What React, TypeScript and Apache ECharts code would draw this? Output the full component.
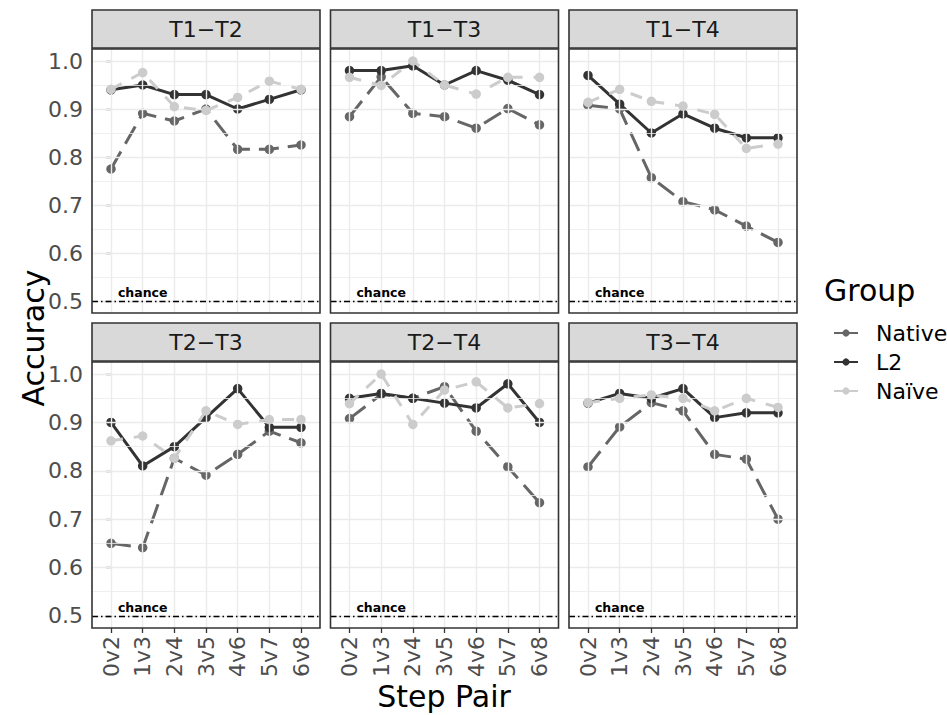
import React, { useEffect, useRef } from "react";
import * as echarts from "echarts";

// ---------- data ----------
const STEPS = ["0v2", "1v3", "2v4", "3v5", "4v6", "5v7", "6v8"];
const PANELS = ["T1−T2", "T1−T3", "T1−T4", "T2−T3", "T2−T4", "T3−T4"];
const GROUPS = ["Native", "L2", "Naïve"];
const Y_TICKS = [0.5, 0.6, 0.7, 0.8, 0.9, 1.0];
const Y_MINOR = [0.55, 0.65, 0.75, 0.85, 0.95];
const CHANCE = 0.5;
const CHANCE_LABEL = "chance";
const CHANCE_LABEL_STEP = 1; // at "1v3"

// one row per panel (PANELS order), one value per step pair
const NATIVE = [
  [0.775, 0.891, 0.875, 0.9, 0.816, 0.816, 0.825],
  [0.884, 0.967, 0.891, 0.884, 0.86, 0.901, 0.867],
  [0.908, 0.9, 0.757, 0.707, 0.69, 0.656, 0.622],
  [0.65, 0.641, 0.826, 0.791, 0.834, 0.882, 0.858],
  [0.908, 0.958, 0.95, 0.974, 0.882, 0.808, 0.734],
  [0.808, 0.891, 0.941, 0.924, 0.834, 0.824, 0.7],
];
const L2 = [
  [0.94, 0.95, 0.93, 0.93, 0.9, 0.92, 0.94],
  [0.98, 0.98, 0.99, 0.95, 0.98, 0.96, 0.93],
  [0.97, 0.91, 0.85, 0.89, 0.86, 0.84, 0.84],
  [0.9, 0.81, 0.85, 0.91, 0.97, 0.89, 0.89],
  [0.95, 0.96, 0.95, 0.94, 0.93, 0.98, 0.9],
  [0.94, 0.96, 0.95, 0.97, 0.91, 0.92, 0.92],
];
const NAIVE = [
  [0.941, 0.976, 0.905, 0.897, 0.924, 0.958, 0.941],
  [0.966, 0.949, 1.0, 0.95, 0.931, 0.966, 0.966],
  [0.914, 0.941, 0.916, 0.906, 0.889, 0.818, 0.827],
  [0.862, 0.872, 0.826, 0.924, 0.896, 0.906, 0.906],
  [0.939, 1.0, 0.896, 0.967, 0.984, 0.93, 0.939],
  [0.941, 0.95, 0.957, 0.95, 0.924, 0.95, 0.931],
];
const SERIES_VALUES = [NATIVE, L2, NAIVE];

// ---------- styles / layout ----------
const FONT = "'DejaVu Sans', 'Liberation Sans', Arial, sans-serif";
const COLORS = ["#666666", "#333333", "#CCCCCC"];
const DASHES: any[] = [[20, 9], "solid", [12, 11]];
const COL_LEFT = [92, 330.5, 569];
const PANEL_W = 228;
const ROW_TOP = [49, 362];
const ROW_H = [264, 266];
const STRIP_H = 38;

export default function App() {
  const ref = useRef<HTMLDivElement>(null);

  useEffect(() => {
    if (!ref.current) return;
    const chart = echarts.init(ref.current, null, { renderer: "svg" });

    const grids: any[] = [];
    const xAxes: any[] = [];
    const yAxes: any[] = [];
    const series: any[] = [];
    const graphics: any[] = [];
    const stepIdx = STEPS.map((_, k) => k);

    PANELS.forEach((name, i) => {
      const row = Math.floor(i / 3);
      const col = i % 3;
      const left = COL_LEFT[col];
      const top = ROW_TOP[row];
      const h = ROW_H[row];
      const bottomRow = row === 1;
      const leftCol = col === 0;

      grids.push({ left, top, width: PANEL_W, height: h, show: false, containLabel: false });

      xAxes.push({
        type: "value",
        gridIndex: i,
        min: -0.6,
        max: 6.6,
        axisLine: { show: false },
        splitLine: { show: false },
        axisTick: {
          show: bottomRow,
          customValues: stepIdx,
          length: 5,
          lineStyle: { color: "#333333", width: 1.3 },
        },
        axisLabel: {
          show: bottomRow,
          customValues: stepIdx,
          formatter: (v: number) => STEPS[Math.round(v)],
          rotate: 90,
          fontSize: 22,
          fontFamily: FONT,
          color: "#4D4D4D",
          margin: 8,
        },
      });

      yAxes.push({
        type: "value",
        gridIndex: i,
        min: 0.475,
        max: 1.025,
        axisLine: { show: false },
        splitLine: { show: false },
        axisTick: {
          show: leftCol,
          customValues: Y_TICKS,
          length: 5,
          lineStyle: { color: "#333333", width: 1.3 },
        },
        axisLabel: {
          show: leftCol,
          customValues: Y_TICKS,
          formatter: (v: number) => v.toFixed(1),
          fontSize: 22,
          fontFamily: FONT,
          color: "#4D4D4D",
          margin: 9,
        },
      });

      // grid lines
      series.push({
        type: "line",
        xAxisIndex: i,
        yAxisIndex: i,
        data: [],
        z: 1,
        silent: true,
        markLine: {
          silent: true,
          animation: false,
          symbol: ["none", "none"],
          label: { show: false },
          lineStyle: { color: "#EBEBEB", type: "solid", width: 1.4 },
          data: [
            ...Y_TICKS.map((v) => ({ yAxis: v, lineStyle: { color: "#EBEBEB", type: "solid", width: 1.4 } })),
            ...Y_MINOR.map((v) => ({ yAxis: v, lineStyle: { color: "#EBEBEB", type: "solid", width: 0.8 } })),
            ...stepIdx.map((k) => ({ xAxis: k, lineStyle: { color: "#EBEBEB", type: "solid", width: 1.4 } })),
          ],
        },
      });

      // chance line + label
      series.push({
        type: "line",
        xAxisIndex: i,
        yAxisIndex: i,
        data: [],
        z: 2,
        silent: true,
        markLine: {
          silent: true,
          animation: false,
          symbol: ["none", "none"],
          label: { show: false },
          lineStyle: { color: "#000000", type: [6, 3, 1.5, 3], width: 1.3 },
          data: [{ yAxis: CHANCE }],
        },
        markPoint: {
          silent: true,
          animation: false,
          symbol: "circle",
          symbolSize: 0.01,
          itemStyle: { color: "rgba(0,0,0,0)" },
          label: {
            show: true,
            position: "top",
            distance: 2,
            formatter: CHANCE_LABEL,
            color: "#000000",
            fontSize: 12.5,
            fontWeight: "bold",
            fontFamily: FONT,
          },
          data: [{ coord: [CHANCE_LABEL_STEP, CHANCE] }],
        },
      });

      GROUPS.forEach((g, gi) => {
        series.push({
          type: "line",
          name: g,
          xAxisIndex: i,
          yAxisIndex: i,
          z: 3 + gi,
          data: SERIES_VALUES[gi][i].map((v, k) => [k, v]),
          symbol: "circle",
          symbolSize: 9.5,
          showSymbol: true,
          color: COLORS[gi],
          itemStyle: { color: COLORS[gi] },
          lineStyle: { color: COLORS[gi], width: 3, type: DASHES[gi] },
          emphasis: { disabled: true },
        });
      });

      // strip
      graphics.push({
        type: "rect",
        z: 100,
        shape: { x: left, y: top - STRIP_H - 1, width: PANEL_W, height: STRIP_H },
        style: { fill: "#D9D9D9", stroke: "#333333", lineWidth: 1.6 },
      });
      graphics.push({
        type: "text",
        z: 101,
        x: left + PANEL_W / 2,
        y: top - STRIP_H / 2 - 1,
        style: {
          text: name,
          fontSize: 22,
          fontFamily: FONT,
          fill: "#1A1A1A",
          textAlign: "center",
          textVerticalAlign: "middle",
          align: "center",
          verticalAlign: "middle",
        },
      });
      // panel border
      graphics.push({
        type: "rect",
        z: 100,
        shape: { x: left, y: top, width: PANEL_W, height: h },
        style: { fill: "none", stroke: "#333333", lineWidth: 1.6 },
      });
    });

    graphics.push({
      type: "text",
      z: 101,
      x: 444,
      y: 696,
      style: {
        text: "Step Pair",
        fontSize: 30,
        fontFamily: FONT,
        fill: "#000000",
        textAlign: "center",
        textVerticalAlign: "middle",
        align: "center",
        verticalAlign: "middle",
      },
    });
    graphics.push({
      type: "text",
      z: 101,
      x: 33,
      y: 338,
      rotation: Math.PI / 2,
      style: {
        text: "Accuracy",
        fontSize: 30,
        fontFamily: FONT,
        fill: "#000000",
        textAlign: "center",
        textVerticalAlign: "middle",
        align: "center",
        verticalAlign: "middle",
      },
    });
    graphics.push({
      type: "text",
      z: 101,
      x: 824,
      y: 290,
      style: {
        text: "Group",
        fontSize: 30,
        fontFamily: FONT,
        fill: "#000000",
        textAlign: "left",
        textVerticalAlign: "middle",
        align: "left",
        verticalAlign: "middle",
      },
    });

    chart.setOption({
      animation: false,
      textStyle: { fontFamily: FONT },
      grid: grids,
      xAxis: xAxes,
      yAxis: yAxes,
      legend: {
        data: GROUPS,
        orient: "vertical",
        left: 828,
        top: 313.5,
        itemWidth: 24,
        itemHeight: 9,
        itemGap: 0,
        selectedMode: false,
        lineStyle: { type: "solid" },
        textStyle: {
          fontSize: 22,
          fontFamily: FONT,
          color: "#000000",
          lineHeight: 29,
          padding: [0, 0, 0, 13],
        },
      },
      series,
      graphic: graphics,
    });

    return () => chart.dispose();
  }, []);

  return (
    <div
      ref={ref}
      style={{ position: "absolute", left: 0, top: 0, width: 947, height: 715, background: "#FFFFFF" }}
    />
  );
}
